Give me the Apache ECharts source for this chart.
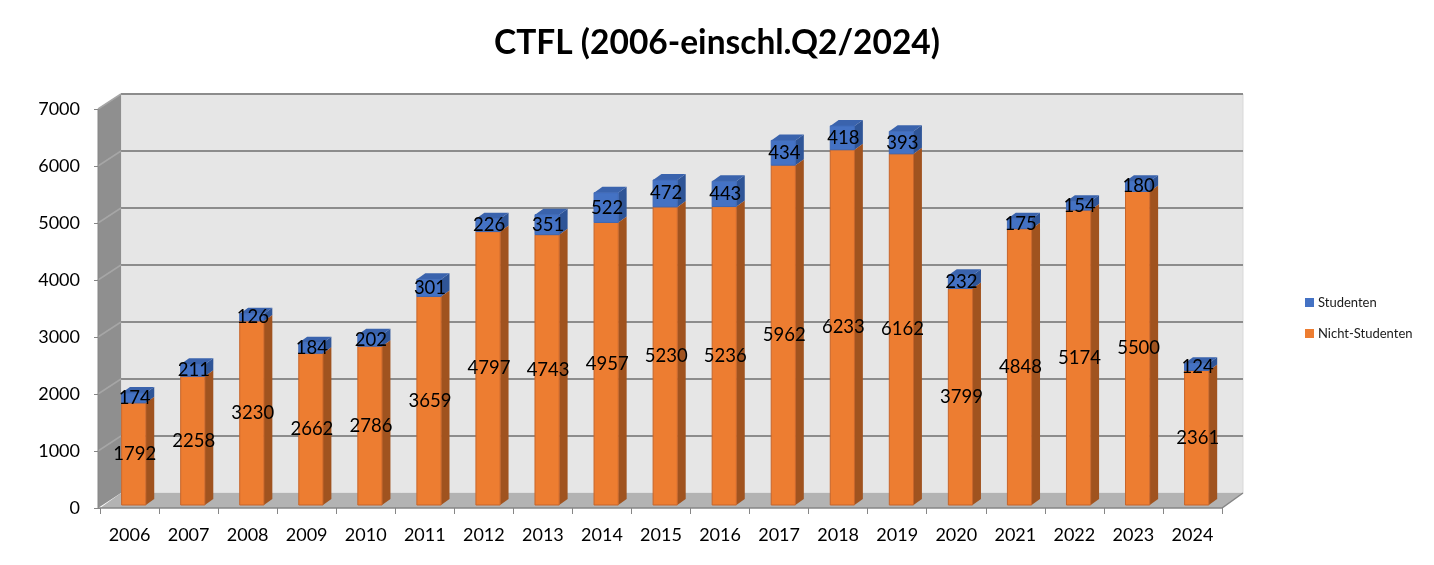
<!DOCTYPE html>
<html>
<head>
<meta charset="utf-8">
<script src="https://cdn.jsdelivr.net/npm/echarts@6/dist/echarts.min.js"></script>
<style>
  html, body { margin: 0; padding: 0; background: #fff; }
  #chart { width: 1434px; height: 565px; }
</style>
</head>
<body>
<div id="chart"></div>
<script>
const years = ["2006", "2007", "2008", "2009", "2010", "2011", "2012", "2013", "2014", "2015",
  "2016", "2017", "2018", "2019", "2020", "2021", "2022", "2023", "2024"];
const nichtStudenten = [1792, 2258, 3230, 2662, 2786, 3659, 4797, 4743, 4957, 5230,
  5236, 5962, 6233, 6162, 3799, 4848, 5174, 5500, 2361];
const studenten = [174, 211, 126, 184, 202, 301, 226, 351, 522, 472,
  443, 434, 418, 393, 232, 175, 154, 180, 124];
const yMax = 7000;
const yStep = 1000;

// depth of the 3d box, and of the bars inside it
const depth = [21, -15];
const barFront = 0.2;
const barDepth = 0.4;
const barWidthRatio = 0.41;
const fontFamily = "Lato, 'Open Sans', sans-serif";

function wallsItem(params, api) {
  const bw = api.size([1, 0])[0];
  const x0 = api.coord([0, 0])[0] - bw / 2;
  const x1 = x0 + bw * years.length;
  const yb = api.coord([0, 0])[1];
  const yt = api.coord([0, yMax])[1];
  const dx = depth[0], dy = depth[1];
  const children = [];
  children.push({
    type: "rect",
    shape: { x: x0 + dx, y: yt + dy, width: x1 - x0, height: yb - yt },
    style: { fill: "#e6e6e6", stroke: "#d9d9d9", lineWidth: 1 }
  });
  children.push({
    type: "polygon",
    shape: { points: [[x0 - 2, yt], [x0 + dx, yt + dy], [x0 + dx, yb + dy], [x0 - 2, yb]] },
    style: { fill: "#8f8f8f" }
  });
  children.push({
    type: "polygon",
    shape: { points: [[x0, yb], [x1, yb], [x1 + dx, yb + dy], [x0 + dx, yb + dy]] },
    style: { fill: "#b3b3b3" }
  });
  for (let v = yStep; v <= yMax; v += yStep) {
    const y = api.coord([0, v])[1];
    children.push({
      type: "line",
      shape: { x1: x0 + dx, y1: y + dy, x2: x1 + dx, y2: y + dy },
      style: { stroke: "#8c8c8c", lineWidth: 2 }
    });
    children.push({
      type: "line",
      shape: { x1: x0 - 2, y1: y, x2: x0 + dx, y2: y + dy },
      style: { stroke: "#a6a6a6", lineWidth: 1.5 }
    });
  }
  // front edges of the box
  children.push({
    type: "polyline",
    shape: { points: [[x0 - 2, yb], [x1, yb], [x1 + dx, yb + dy]] },
    style: { stroke: "#868686", lineWidth: 1.5, fill: null }
  });
  children.push({
    type: "line",
    shape: { x1: x0 - 2, y1: yt, x2: x0 - 2, y2: yb },
    style: { stroke: "#868686", lineWidth: 1 }
  });
  return { type: "group", children: children };
}

function barItem(colors) {
  return function (params, api) {
    const i = api.value(0);
    const base = api.value(1);
    const val = api.value(2);
    const bw = api.size([1, 0])[0];
    const p0 = api.coord([i, base]);
    const p1 = api.coord([i, base + val]);
    const w = bw * barWidthRatio;
    const cx = p0[0] + depth[0] * barFront;
    const xl = cx - w / 2, xr = cx + w / 2;
    const yb = p0[1] + depth[1] * barFront;
    const yt = p1[1] + depth[1] * barFront;
    const dx = depth[0] * barDepth, dy = depth[1] * barDepth;
    return {
      type: "group",
      children: [
        {
          type: "polygon",
          shape: { points: [[xr, yt], [xr + dx, yt + dy], [xr + dx, yb + dy], [xr, yb]] },
          style: { fill: colors.side }
        },
        {
          type: "polygon",
          shape: { points: [[xl, yt], [xr, yt], [xr + dx, yt + dy], [xl + dx, yt + dy]] },
          style: { fill: colors.top }
        },
        {
          type: "rect",
          shape: { x: xl, y: yt, width: w, height: yb - yt },
          style: { fill: colors.front, stroke: colors.edge, lineWidth: 1 }
        },
        {
          type: "text",
          x: cx + 1,
          y: (yt + yb) / 2,
          style: {
            text: String(val),
            fill: "#000",
            font: "18.5px " + fontFamily,
            align: "center",
            verticalAlign: "middle"
          }
        }
      ]
    };
  };
}

const orangeColors = { front: "#ed7d31", side: "#a0531f", top: "#f19a5f", edge: "#c7652a" };
const blueColors = { front: "#4472c4", side: "#2f5597", top: "#3a63ad", edge: "#3e68b5" };

const nichtData = nichtStudenten.map((v, i) => [i, 0, v]);
const studData = studenten.map((v, i) => [i, nichtStudenten[i], v]);

const chart = echarts.init(document.getElementById("chart"));
chart.setOption({
  animation: false,
  title: {
    text: "CTFL (2006-einschl.Q2/2024)",
    left: "center",
    top: 21,
    textStyle: { fontFamily: fontFamily, fontSize: 33.5, fontWeight: "bold", color: "#000" }
  },
  legend: {
    orient: "vertical",
    left: 1300,
    top: 291,
    itemWidth: 9,
    itemHeight: 9,
    itemGap: 18,
    icon: "rect",
    data: ["Studenten", "Nicht-Studenten"],
    textStyle: { fontFamily: fontFamily, fontSize: 13, color: "#1a1a1a", padding: [0, 0, 0, -1] }
  },
  grid: { left: 100, right: 212, top: 109, bottom: 57 },
  xAxis: {
    type: "category",
    data: years,
    axisLine: { show: false },
    axisTick: { show: true, length: 6, lineStyle: { color: "#868686" } },
    axisLabel: { margin: 18, fontFamily: fontFamily, fontSize: 18, color: "#000" },
    splitLine: { show: false }
  },
  yAxis: {
    type: "value",
    min: 0,
    max: yMax,
    interval: yStep,
    axisLine: { show: false },
    axisTick: { show: true, length: 6, lineStyle: { color: "#868686" } },
    axisLabel: {
      margin: 20,
      fontFamily: fontFamily,
      fontSize: 18,
      color: "#000",
      formatter: v => String(v)
    },
    splitLine: { show: false }
  },
  series: [
    {
      name: "walls",
      type: "custom",
      z: 1,
      silent: true,
      data: [[0, 0]],
      renderItem: wallsItem
    },
    {
      name: "Nicht-Studenten",
      type: "custom",
      z: 2,
      itemStyle: { color: orangeColors.front },
      data: nichtData,
      encode: { x: 0, y: 2 },
      renderItem: barItem(orangeColors)
    },
    {
      name: "Studenten",
      type: "custom",
      z: 3,
      itemStyle: { color: blueColors.front },
      data: studData,
      encode: { x: 0, y: 2 },
      renderItem: barItem(blueColors)
    }
  ]
});
</script>
</body>
</html>
